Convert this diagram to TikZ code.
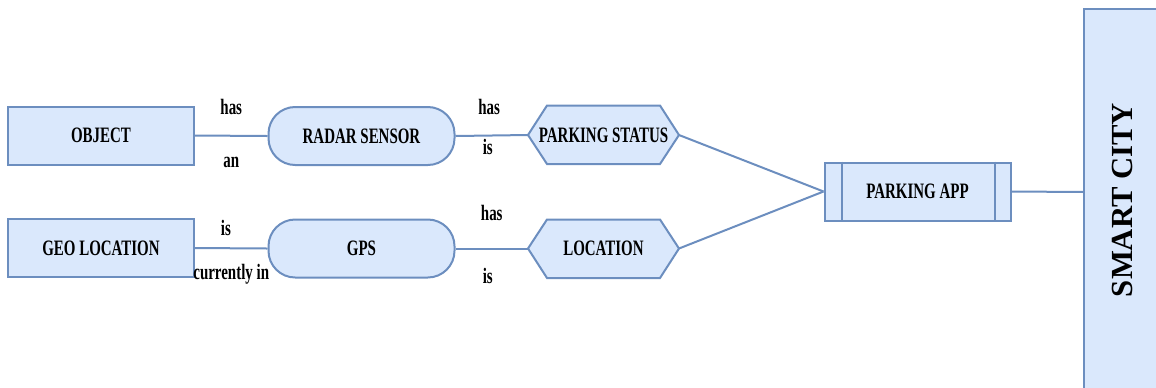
\documentclass[tikz,border=0pt]{standalone}
\usepackage{fontspec}
\setmainfont{Liberation Serif}
\newfontfamily\condfont[FakeStretch=0.68]{Liberation Serif}
\usetikzlibrary{calc}
\definecolor{boxfill}{HTML}{DAE8FC}
\definecolor{boxline}{HTML}{6C8EBF}
\tikzset{
  every node/.style={font=\condfont\bfseries\fontsize{16.5}{18}\selectfont, text=black},
  base/.style={minimum width=139.5pt, minimum height=43.5pt, inner sep=0pt},
  rectbox/.style={base, draw=boxline, fill=boxfill, line width=1.5pt},
  pillbox/.style={base, draw=boxline, fill=boxfill, line width=1.5pt, rounded corners=20pt},
  hexbox/.style={minimum width=113pt, minimum height=44pt, inner sep=0pt},
  hexline/.style={draw=boxline, fill=boxfill, line width=1.5pt, line join=miter},
  link/.style={draw=boxline, line width=1.5pt},
  lbl/.style={inner sep=0pt}
}
\begin{document}
\begin{tikzpicture}[x=0.75pt, y=-0.75pt]
\useasboundingbox (0,0) rectangle (1156,387);

% left column
\node[rectbox] (obj) at (101,135.5) {OBJECT};
\node[rectbox] (geo) at (101,248) {GEO LOCATION};

% sensors
\node[pillbox] (radar) at (361.5,136) {RADAR SENSOR};
\node[pillbox] (gps) at (361.5,248.5) {GPS};

% hexagonal data nodes: outline first, text on top
\path[hexline] (528,135) -- (547,105.5) -- (660,105.5) -- (679,135) -- (660,164) -- (547,164) -- cycle;
\node[hexbox] (ps) at (603.5,135) {PARKING STATUS};
\coordinate (psW) at (528,135);
\coordinate (psE) at (679,135);
\path[hexline] (528,248.5) -- (547,219.5) -- (660,219.5) -- (679,248.5) -- (660,278) -- (547,278) -- cycle;
\node[hexbox] (loc) at (603.5,248.5) {LOCATION};
\coordinate (locW) at (528,248.5);
\coordinate (locE) at (679,248.5);

% application
\node[rectbox] (app) at (917.5,191.5) {PARKING APP};
\draw[link] ($(app.north west)+(18,0)$) -- ($(app.south west)+(18,0)$);
\draw[link] ($(app.north east)+(-17,0)$) -- ($(app.south east)+(-17,0)$);

% city block, running past the lower and right edges
\begin{scope}
\clip (0,0) rectangle (1156,387);
\draw[draw=boxline, fill=boxfill, line width=1.5pt] (1084,8.5) rectangle (1180,400);
\node[font=\rmfamily\bfseries\fontsize{23}{25}\selectfont, rotate=90, inner sep=0pt] (city) at (1122,200) {SMART CITY};
\end{scope}
\coordinate (cityW) at (1084,192);

% connectors with their labels
\draw[link] (obj.east) -- (radar.west)
  node[lbl, pos=0.5, above=15pt] {has}
  node[lbl, pos=0.5, below=15pt] {an};
\draw[link] (geo.east) -- (gps.west)
  node[lbl, pos=0.5, xshift=-4pt, above=9pt] {is}
  node[lbl, pos=0.5, below=11pt] {currently in};
\draw[link] (radar.east) -- (psW)
  node[lbl, pos=0.5, xshift=-2pt, above=15pt] {has}
  node[lbl, pos=0.5, xshift=-3pt, below=2pt] {is};
\draw[link] (gps.east) -- (locW)
  node[lbl, pos=0.5, above=20pt] {has}
  node[lbl, pos=0.5, xshift=-3pt, below=14pt] {is};
\draw[link] (psE) -- (app.west);
\draw[link] (locE) -- (app.west);
\draw[link] (app.east) -- (cityW);
\end{tikzpicture}
\end{document}
